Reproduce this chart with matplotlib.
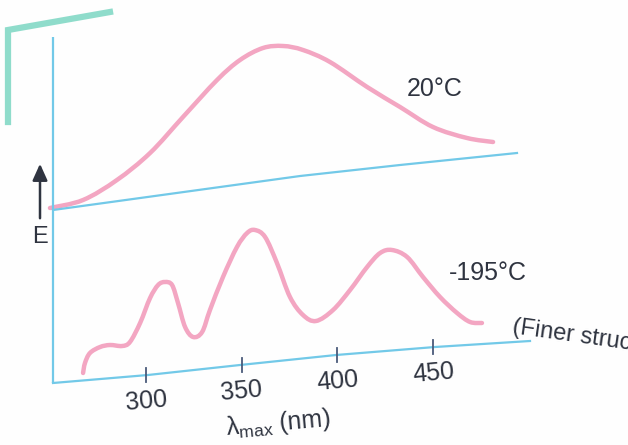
import numpy as np
import matplotlib.pyplot as plt
from matplotlib.path import Path
from matplotlib.patches import PathPatch

# wavelength (nm) / E (arbitrary units)
room_nm = [249.8, 267.1, 284.8, 302.1, 319.3, 337.1, 349.1, 361.1, 371.6,
           382.0, 396.1, 415.5, 432.7, 449.9, 467.7, 481.3]
room_E = [2.37, 2.45, 2.65, 2.92, 3.28, 3.65, 3.85, 3.97, 3.99,
          3.95, 3.83, 3.58, 3.38, 3.18, 3.07, 3.03]

cold_nm = [267.1, 268.1, 270.7, 276.0, 281.2, 287.5, 291.6, 296.9, 302.1,
           306.3, 309.9, 313.6, 316.7, 320.4, 324.6, 329.3, 333.4, 340.2,
           347.5, 352.8, 356.9, 362.2, 368.4, 375.2, 382.0, 388.8, 397.7,
           406.6, 415.5, 422.3, 428.5, 436.4, 444.7, 453.6, 462.5, 469.3, 475.5]
cold_E = [0.72, 0.82, 0.92, 0.98, 1.00, 0.99, 1.03, 1.22, 1.47,
          1.60, 1.63, 1.60, 1.42, 1.18, 1.08, 1.13, 1.35, 1.68,
          1.98, 2.12, 2.15, 2.08, 1.82, 1.48, 1.30, 1.24, 1.35,
          1.55, 1.78, 1.92, 1.95, 1.88, 1.68, 1.48, 1.32, 1.23, 1.22]

upper_base_nm = [251.4, 380.5, 432.7, 493.8]
upper_base_E = [2.35, 2.69, 2.80, 2.92]

lower_base_nm = [251.4, 301.0, 349.1, 399.3, 451.0, 500.6]
lower_base_E = [0.62, 0.70, 0.80, 0.90, 0.98, 1.04]

tick_nm = [300, 350, 400, 450]
tick_labels = ['300', '350', '400', '450']

pink = '#f3a6c2'
cyan = '#72c9e8'
ink = '#2f3440'

plt.rcParams['font.family'] = ['Liberation Sans', 'DejaVu Sans']
plt.rcParams['mathtext.fontset'] = 'custom'
plt.rcParams['mathtext.rm'] = 'Liberation Sans'


def smooth_path(xs, ys):
    # Bezier segments through the read points (Catmull-Rom handles)
    p = np.column_stack([xs, ys])
    p = np.vstack([p[0], p, p[-1]])
    verts = [p[1]]
    codes = [Path.MOVETO]
    for i in range(1, len(p) - 2):
        c1 = p[i] + (p[i + 1] - p[i - 1]) / 6
        c2 = p[i + 1] - (p[i + 2] - p[i]) / 6
        verts += [c1, c2, p[i + 1]]
        codes += [Path.CURVE4] * 3
    return Path(verts, codes)


fig = plt.figure(figsize=(6.28, 4.45), dpi=100)
fig.patch.set_facecolor('#fefefe')
ax = fig.add_axes([0, 0, 1, 1])
ax.set_xlim(223.7, 551.8)
ax.set_ylim(0, 4.45)
ax.axis('off')

fs = 18

# axes lines
ax.plot([251.4, 251.4], [0.62, 4.08], color=cyan, lw=1.6, solid_capstyle='butt')
ax.plot(upper_base_nm, upper_base_E, color=cyan, lw=1.6)
ax.plot(lower_base_nm, lower_base_E, color=cyan, lw=1.6)

# spectra
for xs, ys in [(room_nm, room_E), (cold_nm, cold_E)]:
    ax.add_patch(PathPatch(smooth_path(xs, ys), facecolor='none', edgecolor=pink,
                           lw=3.2, capstyle='round', joinstyle='round'))

# ticks on the tilted baseline
base_at_tick = np.interp(tick_nm, lower_base_nm, lower_base_E)
for x, y, lab in zip(tick_nm, base_at_tick, tick_labels):
    ax.plot([x, x], [y - 0.07, y + 0.07], color='#4a5a7a', lw=1.3)
    ax.annotate(lab, (x, y), xytext=(0, -19), textcoords='offset points',
                ha='center', va='center', fontsize=fs, color=ink, rotation=5)

ax.text(369, 0.22, r'λ$_{\rm max}$ (nm)', ha='center', va='center',
        fontsize=fs, color=ink, rotation=5)

ax.text(451, 3.56, '20°C', ha='center', va='center', fontsize=fs, color=ink)
ax.text(478.7, 1.72, '-195°C', ha='center', va='center', fontsize=fs, color=ink)
ax.text(491.5, 1.18, '(Finer structure)', ha='left', va='center',
        fontsize=fs - 1, color=ink, rotation=-8, rotation_mode='anchor',
        clip_on=True)

# E arrow
ax.annotate('', xy=(244.6, 2.84), xytext=(244.6, 2.24),
            arrowprops=dict(arrowstyle='-|>,head_length=1.0,head_width=0.45',
                            color=ink, lw=1.8))
ax.text(244.6, 2.08, 'E', ha='center', va='center', fontsize=fs - 1, color=ink)

# teal printed corner mark
fig.add_artist(plt.Line2D([8 / 628, 8 / 628, 110 / 628],
                          [1 - 122 / 445, 1 - 30 / 445, 1 - 12 / 445],
                          color='#8fdccb', lw=4.5, solid_joinstyle='miter'))

fig.savefig('out.png', dpi=100, facecolor=fig.get_facecolor())
